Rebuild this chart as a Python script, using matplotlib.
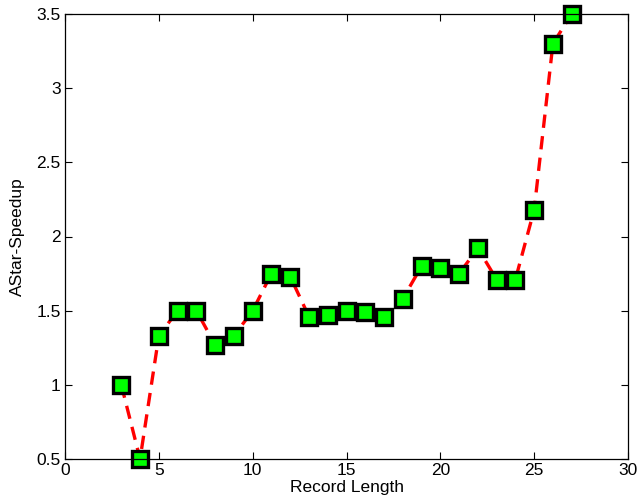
import matplotlib
matplotlib.use("Agg")
import matplotlib.pyplot as plt

record_length = [3, 4, 5, 6, 7, 8, 9, 10, 11, 12, 13, 14, 15, 16, 17, 18, 19, 20, 21, 22, 23, 24, 25, 26, 27]
speedup = [1.0, 0.5, 1.33, 1.5, 1.5, 1.27, 1.33, 1.5, 1.75, 1.73, 1.46, 1.47, 1.50, 1.49, 1.46,
           1.58, 1.80, 1.79, 1.75, 1.92, 1.71, 1.71, 2.18, 3.30, 3.50]
xticks = [0, 5, 10, 15, 20, 25, 30]
yticks = [0.5, 1, 1.5, 2, 2.5, 3, 3.5]
ytick_labels = ["0.5", "1", "1.5", "2", "2.5", "3", "3.5"]

plt.rcParams['font.family'] = ['Liberation Sans', 'DejaVu Sans']
fig = plt.figure(figsize=(6.39, 5.04), dpi=100)
ax = fig.add_axes([65/639, 45/504, (628-65)/639, (459-14)/504])
ax.plot(record_length, speedup, linestyle='--', color='red', linewidth=2.4,
        marker='s', markersize=11, markerfacecolor=(0, 1, 0), markeredgecolor='black',
        markeredgewidth=2.4, dashes=(4, 2.5), clip_on=False)
ax.set_xlim(0, 30)
ax.set_ylim(0.5, 3.5)
ax.set_xticks(xticks)
ax.set_yticks(yticks)
ax.set_yticklabels(ytick_labels)
ax.tick_params(direction='in', top=True, right=True, labelsize=12.5, length=5, width=0.8, pad=3)
ax.set_xlabel("Record Length", fontsize=12.5, labelpad=1)
ax.set_ylabel("AStar-Speedup", fontsize=12.5, labelpad=8)
for s in ax.spines.values():
    s.set_linewidth(0.9)
fig.savefig("out.png", dpi=100)
